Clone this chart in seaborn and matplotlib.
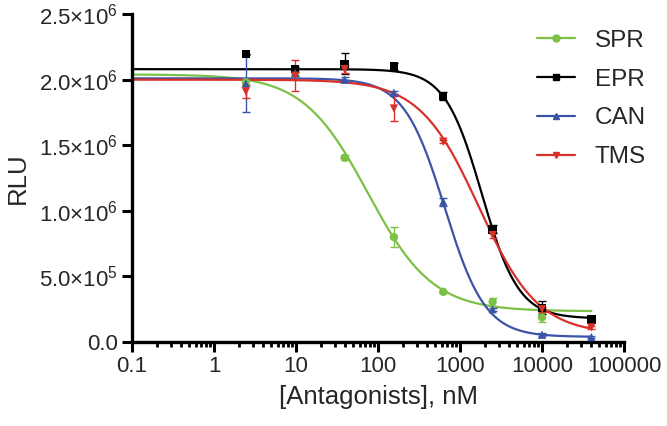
import numpy as np
import pandas as pd
import matplotlib
matplotlib.use('Agg')
import matplotlib.pyplot as plt
import seaborn as sns
from matplotlib.lines import Line2D
from matplotlib.ticker import FixedLocator, LogLocator, NullFormatter


# Antagonist concentrations (nM), 4-fold dilution series
conc = [2.44, 9.77, 39.06, 156.25, 625, 2500, 10000, 40000]

compounds = ['SPR', 'EPR', 'CAN', 'TMS']
colors = ['#7cc146', '#000000', '#3b54a5', '#d8312a']
markers = ['o', 's', '^', 'v']

# Mean RLU per concentration
spr_mean = [1.98e6, 2.05e6, 1.405e6, 0.80e6, 0.383e6, 0.307e6, 0.188e6, np.nan]
epr_mean = [2.195e6, 2.08e6, 2.12e6, 2.10e6, 1.875e6, 0.859e6, 0.262e6, 0.173e6]
can_mean = [1.97e6, 2.05e6, 2.00e6, 1.90e6, 1.07e6, 0.25e6, 0.056e6, 0.038e6]
tms_mean = [1.91e6, 2.03e6, 2.08e6, 1.78e6, 1.527e6, 0.815e6, 0.25e6, 0.112e6]

# Error bars (SEM)
spr_err = [0.02e6, 0.02e6, 0.02e6, 0.075e6, 0.01e6, 0.03e6, 0.035e6, np.nan]
epr_err = [0.0, 0.02e6, 0.08e6, 0.03e6, 0.03e6, 0.03e6, 0.05e6, 0.01e6]
can_err = [0.22e6, 0.02e6, 0.02e6, 0.01e6, 0.03e6, 0.01e6, 0.01e6, 0.01e6]
tms_err = [0.05e6, 0.118e6, 0.03e6, 0.097e6, 0.01e6, 0.02e6, 0.02e6, 0.01e6]

# Four-parameter logistic fit parameters for each curve
fit_top = [2.04e6, 2.08e6, 2.01e6, 2.00e6]
fit_bottom = [0.235e6, 0.18e6, 0.04e6, 0.06e6]
fit_ic50 = [75, 1846, 650, 1700]
fit_hill = [1.1, 1.93, 1.75, 1.2]

means = [spr_mean, epr_mean, can_mean, tms_mean]
errs = [spr_err, epr_err, can_err, tms_err]

# Build tables for seaborn
pts = []
for name, m, e in zip(compounds, means, errs):
    for c, v, s in zip(conc, m, e):
        pts.append({'conc': c, 'rlu': v, 'err': s, 'compound': name})
pts = pd.DataFrame(pts).dropna()

xfit = np.logspace(-1, np.log10(40000), 300)
curves = []
for name, top, bot, ic50, h in zip(compounds, fit_top, fit_bottom, fit_ic50, fit_hill):
    yfit = bot + (top - bot) / (1 + (xfit / ic50) ** h)
    curves.append(pd.DataFrame({'conc': xfit, 'rlu': yfit, 'compound': name}))
curves = pd.concat(curves)

sns.set_style('ticks')
plt.rcParams['font.family'] = ['Liberation Sans', 'DejaVu Sans']

fig = plt.figure(figsize=(6.67, 4.26), dpi=100)
ax = fig.add_axes([0.198, 0.197, 0.7375, 0.77])

palette = dict(zip(compounds, colors))
sns.lineplot(data=curves, x='conc', y='rlu', hue='compound', palette=palette,
             linewidth=1.6, legend=False, ax=ax, sort=False, estimator=None)

for name in compounds:
    d = pts[pts['compound'] == name]
    ax.errorbar(d['conc'], d['rlu'], yerr=d['err'], fmt='none',
                ecolor=palette[name], elinewidth=1.0, capsize=3, capthick=1.0)

sns.scatterplot(data=pts, x='conc', y='rlu', hue='compound', style='compound',
                palette=palette, markers=dict(zip(compounds, markers)),
                s=36, linewidth=0, legend=False, ax=ax, zorder=5)

ax.set_xscale('log')
ax.set_xlim(0.1, 100000)
ax.set_ylim(0, 2.5e6)

ax.xaxis.set_major_locator(FixedLocator([0.1, 1, 10, 100, 1000, 10000, 100000]))
ax.set_xticklabels(['0.1', '1', '10', '100', '1000', '10000', '100000'])
ax.xaxis.set_minor_locator(LogLocator(base=10, subs=np.arange(2, 10)))
ax.xaxis.set_minor_formatter(NullFormatter())

yticks = [0, 0.5e6, 1.0e6, 1.5e6, 2.0e6, 2.5e6]
ylabels = ['0.0', r'$\mathregular{5.0{\times}10^{5}}$', r'$\mathregular{1.0{\times}10^{6}}$',
           r'$\mathregular{1.5{\times}10^{6}}$', r'$\mathregular{2.0{\times}10^{6}}$',
           r'$\mathregular{2.5{\times}10^{6}}$']
ax.set_yticks(yticks)
ax.set_yticklabels(ylabels)

ax.tick_params(axis='both', which='major', labelsize=16, width=2.2, length=7,
               pad=3, color='black')
ax.tick_params(axis='x', which='minor', width=2.0, length=3.5, color='black')
ax.tick_params(axis='y', which='minor', left=False)

for side in ['left', 'bottom']:
    ax.spines[side].set_linewidth(2.4)
    ax.spines[side].set_color('black')
sns.despine(ax=ax)

ax.set_xlabel('[Antagonists], nM', fontsize=18.5, labelpad=6)
ax.set_ylabel('RLU', fontsize=18.5, labelpad=7)

handles = [Line2D([0], [0], color=c, marker=mk, markersize=5, linewidth=1.6)
           for c, mk in zip(colors, markers)]
ax.legend(handles, compounds, loc='upper left', frameon=False, fontsize=17.5,
          handlelength=1.56, handletextpad=0.82, labelspacing=0.69,
          borderpad=0, borderaxespad=0, numpoints=1,
          bbox_to_anchor=(537 / 667, 0.93), bbox_transform=fig.transFigure)

plt.savefig('out.png', dpi=100)
